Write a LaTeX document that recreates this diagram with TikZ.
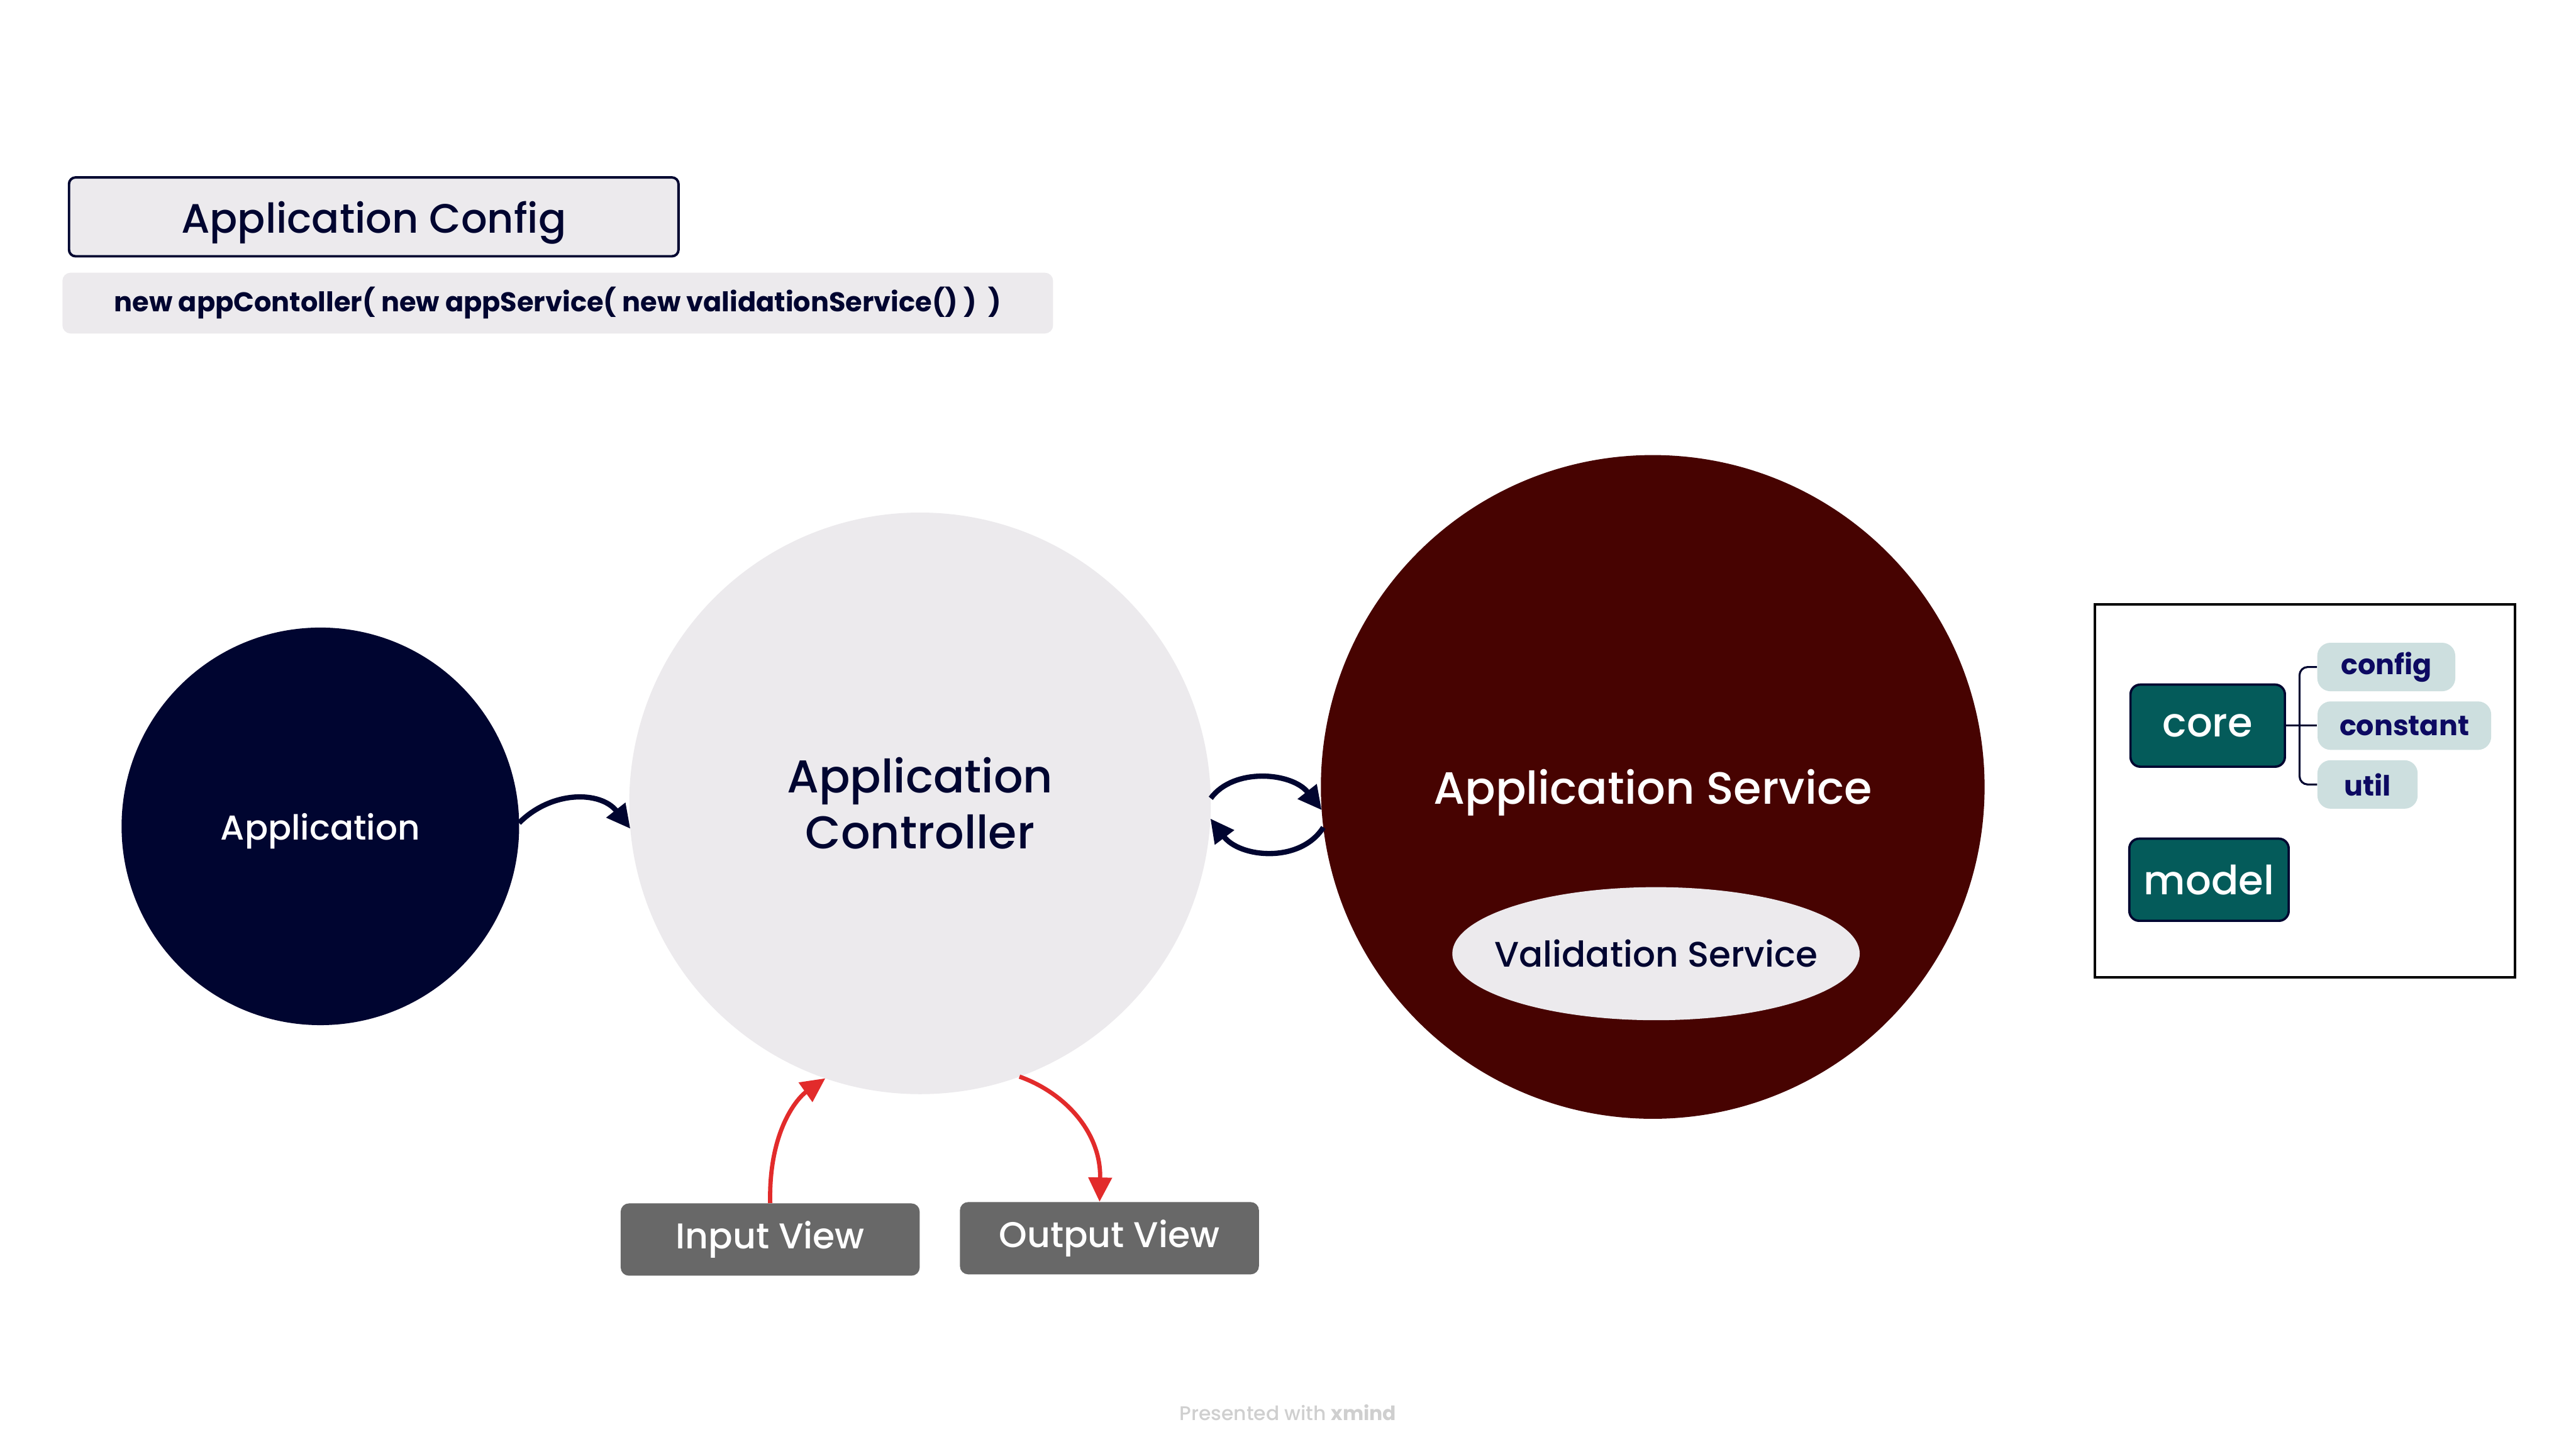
\documentclass[tikz,border=0pt]{standalone}
\usepackage{fontspec}
\setmainfont{Poppins}[UprightFont=* Medium, BoldFont=* Bold]
\usetikzlibrary{arrows.meta,shapes.geometric}
\definecolor{navy}{HTML}{000530}
\definecolor{lightgr}{HTML}{ECEAED}
\definecolor{maroonc}{HTML}{470301}
\definecolor{tealbox}{HTML}{045B5A}
\definecolor{pillc}{HTML}{CDDFDF}
\definecolor{pilltext}{HTML}{0D0A62}
\definecolor{viewgray}{HTML}{686868}
\definecolor{arrowred}{HTML}{E22B2B}
\definecolor{footc}{HTML}{CFCFCF}
\tikzset{
  navyarrow/.style={navy, line width=3.2pt, -{Triangle[length=14.4pt,width=14pt]}},
  redarrow/.style={arrowred, line width=2.6pt, -{Triangle[length=14.8pt,width=14pt]}},
  viewbox/.style={fill=viewgray, rounded corners=5pt, minimum width=182pt, minimum height=44pt, inner sep=0pt, text=white, font=\fontsize{21.8pt}{26pt}\selectfont},
  pkgbox/.style={fill=tealbox, draw=navy, line width=1.4pt, rounded corners=6pt, minimum height=50pt, inner sep=0pt, text=white, font=\fontsize{24.5pt}{30pt}\selectfont},
  pillbox/.style={fill=pillc, rounded corners=8pt, minimum height=29.5pt, inner sep=0pt, text=pilltext, font=\bfseries\fontsize{17pt}{20pt}\selectfont},
  bigcircle/.style={circle, inner sep=0pt, outer sep=0pt}
}
\begin{document}
\begin{tikzpicture}[x=1pt,y=-1pt]
\useasboundingbox (0,0) rectangle (1568,882);
\fill[white] (0,0) rectangle (1568,882);

% top boxes
\node[draw=navy, line width=1.5pt, fill=lightgr, rounded corners=4pt, minimum width=371pt, minimum height=48pt, inner sep=0pt, text depth=0pt, text=navy, font=\fontsize{25pt}{30pt}\selectfont] (cfg) at (227.5,132) {Application Config};
\node[fill=lightgr, rounded corners=5pt, minimum width=603pt, minimum height=37pt, inner sep=0pt, text=navy, font=\bfseries\fontsize{16.5pt}{20pt}\selectfont] (code) at (339.5,184.5) {new appContoller( new appService( new validationService() )\ \ )};

% circles
\node[bigcircle, fill=navy, minimum size=242pt, text=white, text depth=0pt, font=\fontsize{21pt}{26pt}\selectfont] (app) at (195,503) {Application};
\node[bigcircle, fill=lightgr, minimum size=354pt, text=navy, align=center, font=\fontsize{28pt}{34pt}\selectfont] (ctrl) at (560,489) {Application\\Controller};
\node[bigcircle, fill=maroonc, minimum size=404pt, text=white, text depth=0pt, font=\fontsize{27.5pt}{34pt}\selectfont] (svc) at (1006,479) {Application Service};
\node[ellipse, fill=lightgr, minimum width=248pt, minimum height=81pt, inner sep=0pt, text=navy, font=\fontsize{21.6pt}{27pt}\selectfont] (val) at (1008,580.5) {\makebox[0pt]{Validation Service}};

% views
\node[viewbox] (inview) at (468.8,754.5) {Input View};
\node[viewbox] (outview) at (675.3,753.7) {Output View};

% arrows
\draw[navyarrow] (app.1) .. controls +(20,-20) and +(-18,-23) .. (ctrl.185);
\draw[navyarrow] (ctrl.1) .. controls +(14,-19) and +(-18,-23) .. (svc.184);
\draw[navyarrow] (svc.187) .. controls +(-14,22) and +(18,24) .. (ctrl.-3);
\draw[redarrow] (inview.north) .. controls +(-1,-44) and +(-17,12) .. (ctrl.251);
\draw[redarrow] (ctrl.290) .. controls +(28,10) and +(1,-42) .. ([xshift=-6pt]outview.north);

% right panel
\node[draw=black, line width=1.5pt, minimum width=256pt, minimum height=227pt, inner sep=0pt] (panel) at (1403,481.5) {};
\node[pkgbox, minimum width=94pt] (core) at (1343.8,441.7) {core};
\node[pkgbox, minimum width=97pt] (model) at (1344.6,535.5) {model};
\node[pillbox, minimum width=84pt] (config) at (1452.5,406) {config};
\node[pillbox, minimum width=105.7pt] (constant) at (1463.5,441.7) {constant};
\node[pillbox, minimum width=61pt] (util) at (1441.1,477.5) {util};
\draw[navy, line width=1.2pt] (core.east) -- (constant.west);
\draw[navy, line width=1.2pt, rounded corners=5pt] (config.west) -- ++(-10.6,0) |- (util.west);

% footer
\node[text=footc, font=\fontsize{12pt}{14pt}\selectfont] (foot) at (784,860) {Presented with \textbf{xmind}};
\end{tikzpicture}
\end{document}
